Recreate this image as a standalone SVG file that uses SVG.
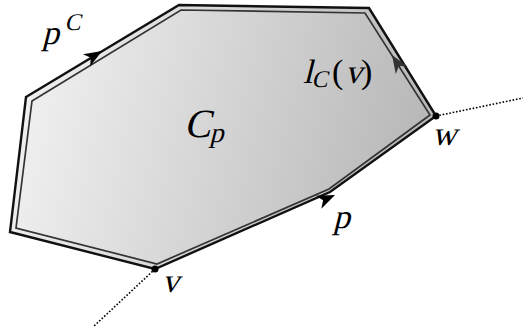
<svg xmlns="http://www.w3.org/2000/svg" width="525" height="336" viewBox="0 0 525 336">
<defs>
<linearGradient id="g" gradientUnits="userSpaceOnUse" x1="10" y1="100" x2="436" y2="200">
<stop offset="0" stop-color="#f2f2f2"/>
<stop offset="1" stop-color="#b4b4b4"/>
</linearGradient>
<path id="arr" d="M0,0 L-18,-7 L-13,0 L-18,7 Z"/>
</defs>
<style>
text{font-family:'Liberation Serif','Times New Roman',serif;font-style:normal;fill:#000}
.dot{stroke:#000;stroke-width:1.6;stroke-dasharray:1.6 1.8;fill:none}
</style>
<g id="region">
<polygon points="26,97 179,5 369,8 436,116 330,192 155,269 10,232" fill="url(#g)" stroke="#111" stroke-width="2.4" stroke-linejoin="miter"/>
<polygon points="32,101 181,10 365,13 430,115 329,189 157,264 16,228" fill="none" stroke="#333" stroke-width="1.7"/>
</g>
<g id="connectors">
<line class="dot" x1="155" y1="269" x2="93" y2="327"/>
<line class="dot" x1="436" y1="116" x2="523" y2="98"/>
<use href="#arr" transform="translate(102,51) rotate(-31)" fill="#000"/>
<use href="#arr" transform="translate(392,55) rotate(-122.5)" fill="#333"/>
<use href="#arr" transform="translate(335,195) rotate(-23.7)" fill="#000"/>
</g>
<g id="v"><circle cx="155" cy="269" r="3.5" fill="#000"/><text transform="translate(162,292) skewX(-14)" font-size="34">v</text></g>
<g id="w"><circle cx="436" cy="116" r="3.5" fill="#000"/><text transform="translate(432,145) skewX(-14)" font-size="34">w</text></g>
<g id="Cp"><text transform="translate(184,137) skewX(-14)" font-size="40">C<tspan font-size="28" dy="5">p</tspan></text></g>
<g id="pC"><text transform="translate(42,44) skewX(-14)" font-size="34">p<tspan font-size="24" dx="2" dy="-14">C</tspan></text></g>
<g id="lC"><text transform="translate(303,83) skewX(-14)" font-size="34">l<tspan font-size="24" dy="4">C</tspan></text><text x="332" y="83" font-size="34">(</text><text transform="translate(345,83) skewX(-14)" font-size="34">v</text><text x="361" y="83" font-size="34">)</text></g>
<g id="p"><text transform="translate(333,228) skewX(-14)" font-size="34">p</text></g>
</svg>
